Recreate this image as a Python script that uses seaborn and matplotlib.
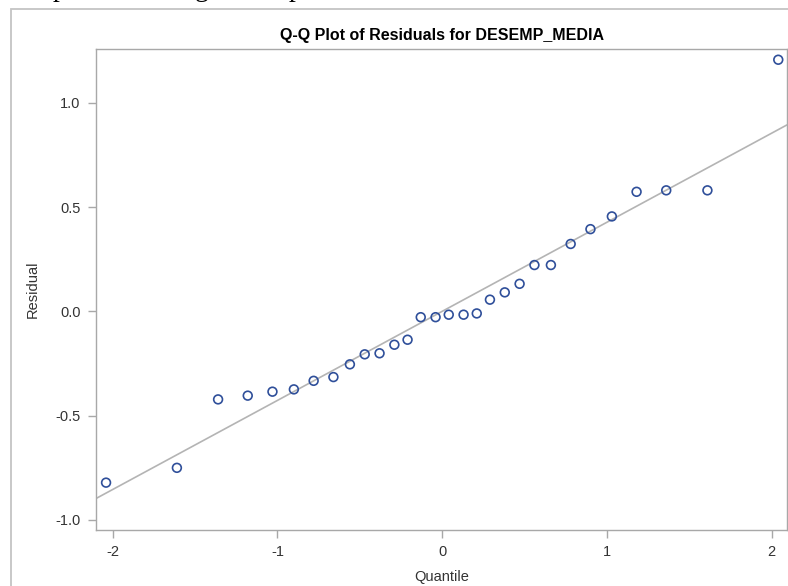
import matplotlib
matplotlib.use("Agg")
import matplotlib.pyplot as plt
import seaborn as sns
import pandas as pd
from matplotlib.patches import Rectangle

# ---- data ----
quantiles = [-2.04, -1.61, -1.36, -1.18, -1.03, -0.90, -0.78, -0.66, -0.56, -0.47,
             -0.38, -0.29, -0.21, -0.13, -0.04, 0.04, 0.13, 0.21, 0.29, 0.38,
             0.47, 0.56, 0.66, 0.78, 0.90, 1.03, 1.18, 1.36, 1.61, 2.04]
residuals = [-0.821, -0.750, -0.422, -0.404, -0.385, -0.374, -0.333, -0.315, -0.254, -0.206,
             -0.201, -0.160, -0.136, -0.028, -0.028, -0.016, -0.016, -0.010, 0.056, 0.091,
             0.132, 0.222, 0.222, 0.323, 0.394, 0.455, 0.573, 0.580, 0.580, 1.206]
line_intercept = 0.0
line_slope = 0.427
x_ticks = [-2, -1, 0, 1, 2]
y_ticks = [-1.0, -0.5, 0.0, 0.5, 1.0]
y_tick_labels = ["-1.0", "-0.5", "0.0", "0.5", "1.0"]
title = "Q-Q Plot of Residuals for DESEMP_MEDIA"
x_label = "Quantile"
y_label = "Residual"

df = pd.DataFrame({"Quantile": quantiles, "Residual": residuals})

sns.set_theme(style="white")
plt.rcParams["font.family"] = ["Liberation Sans", "DejaVu Sans"]

W, H = 788, 586
fig = plt.figure(figsize=(W / 100, H / 100), dpi=100)
fig.patch.set_facecolor("white")

# outer graph border (clipped by image edges)
fig.patches.append(Rectangle((11 / W, -0.1), 1.2, (H - 9) / H + 0.1,
                             transform=fig.transFigure, fill=False,
                             edgecolor="#c4c4c4", linewidth=1.3))

# partial text of the document above the chart (only descenders visible)
for ch, px in [("p", 53), ("g", 195), ("p", 289)]:
    fig.text(px / W, 1 + 3.5 / H, ch, family="Liberation Serif", fontsize=20,
             color="black", va="baseline", ha="left")

left, right, top, bottom = 96, 787, 49.3, 530
ax = fig.add_axes([left / W, (H - bottom) / H, (right - left) / W, (bottom - top) / H])
ax.set_facecolor("white")

ax.axline((0, line_intercept), slope=line_slope, color="#b4b4b4", linewidth=1.2, zorder=1)
sns.scatterplot(data=df, x="Quantile", y="Residual", ax=ax, marker="o", s=40,
                facecolor="none", edgecolor="#2f4f9a", linewidth=1.2, zorder=3)

ax.set_xlim(-2.101, 2.093)
ax.set_ylim(-1.048, 1.256)
ax.set_xticks(x_ticks)
ax.set_xticklabels([str(t) for t in x_ticks])
ax.set_yticks(y_ticks)
ax.set_yticklabels(y_tick_labels)

for s in ax.spines.values():
    s.set_color("#a8a8a8")
    s.set_linewidth(1.0)
ax.tick_params(axis="both", which="major", direction="out", length=6, width=1.0,
               color="#a8a8a8", labelcolor="#333333", labelsize=10.5, pad=5,
               bottom=True, left=True)

ax.set_xlabel(x_label, fontsize=10.5, color="#333333", labelpad=8)
ax.set_ylabel(y_label, fontsize=10.5, color="#333333", labelpad=11)
ax.set_title(title, fontsize=11.5, fontweight="bold", color="black", pad=7)

fig.savefig("out.png", dpi=100)
